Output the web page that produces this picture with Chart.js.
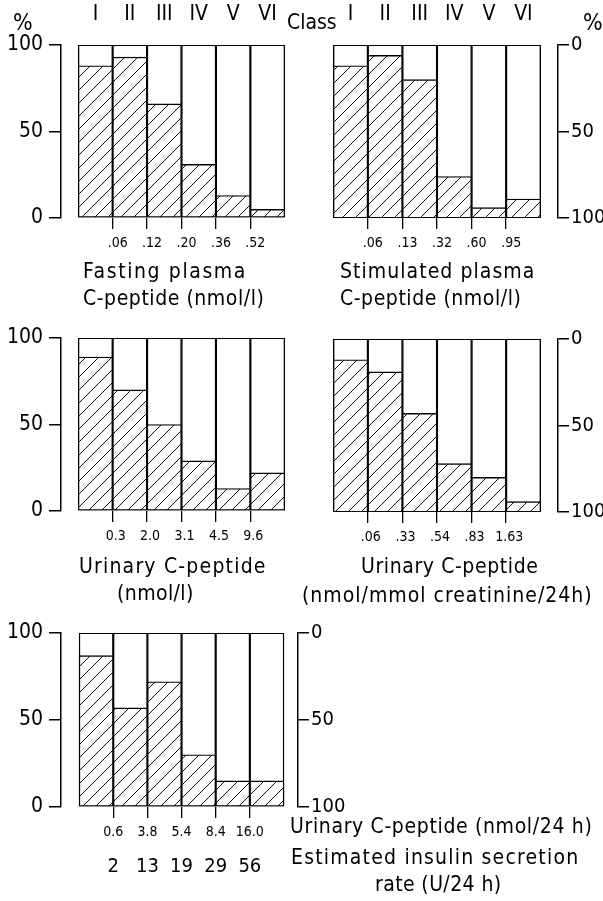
<!DOCTYPE html>
<html>
<head>
<meta charset="utf-8">
<script src="https://cdn.jsdelivr.net/npm/chart.js@4.4.1/dist/chart.umd.min.js"></script>
<style>
  body { margin: 0; background: #fff; }
  #page { position: relative; width: 603px; height: 901px; overflow: hidden; font-family: "DejaVu Sans Condensed", "DejaVu Sans", sans-serif; }
  canvas { position: absolute; }
  .t { position: absolute; white-space: nowrap; font-size: 21px; letter-spacing: 1px; line-height: 1; color: #000; z-index: 2; }
</style>
</head>
<body>
<div id="page">
  <canvas id="c1" width="302" height="262" style="left:0;top:0"></canvas>
  <canvas id="c2" width="303" height="262" style="left:300px;top:0"></canvas>
  <canvas id="c3" width="302" height="262" style="left:0;top:300px"></canvas>
  <canvas id="c4" width="303" height="262" style="left:300px;top:300px"></canvas>
  <canvas id="c5" width="345" height="290" style="left:0;top:590px"></canvas>

  <div class="t" style="left:13px;top:11px;font-size:23px;letter-spacing:0">%</div>
  <div class="t" style="left:287px;top:12px;letter-spacing:0">Class</div>
  <div class="t" style="left:583px;top:11px;font-size:23px;letter-spacing:0">%</div>

  <div class="t" style="left:83px;top:261px;letter-spacing:1.6px">Fasting plasma</div>
  <div class="t" style="left:83px;top:288px;letter-spacing:0.55px">C-peptide (nmol/l)</div>
  <div class="t" style="left:340px;top:261px;letter-spacing:1.05px">Stimulated plasma</div>
  <div class="t" style="left:340px;top:288px;letter-spacing:0.55px">C-peptide (nmol/l)</div>

  <div class="t" style="left:79px;top:556px;letter-spacing:1.2px">Urinary C-peptide</div>
  <div class="t" style="left:117px;top:583px;letter-spacing:0.4px">(nmol/l)</div>
  <div class="t" style="left:361px;top:556px;letter-spacing:0.6px">Urinary C-peptide</div>
  <div class="t" style="left:302px;top:585px;letter-spacing:1px">(nmol/mmol creatinine/24h)</div>

  <div class="t" style="left:290px;top:816px;letter-spacing:0.65px">Urinary C-peptide (nmol/24 h)</div>
  <div class="t" style="left:291px;top:847px;letter-spacing:1.2px">Estimated insulin secretion</div>
  <div class="t" style="left:375px;top:874px;letter-spacing:0.4px">rate (U/24 h)</div>
</div>
<script>
const FONT = '"DejaVu Sans Condensed", "DejaVu Sans", sans-serif';

// classes and % of patients (hatched part) per class
const classes = ["I", "II", "III", "IV", "V", "VI"];
const fullScale = [100, 100, 100, 100, 100, 100];

const fastingPct = [88, 93, 66, 31, 13, 5];
const fastingCuts = [".06", ".12", ".20", ".36", ".52"];

const stimulatedPct = [88, 94, 80, 24, 6, 11];
const stimulatedCuts = [".06", ".13", ".32", ".60", ".95"];

const urinaryPct = [89, 70, 50, 29, 13, 22];
const urinaryCuts = ["0.3", "2.0", "3.1", "4.5", "9.6"];

const creatininePct = [88, 81, 57, 28, 20, 6];
const creatinineCuts = [".06", ".33", ".54", ".83", "1.63"];

const dailyPct = [87, 57, 72, 30, 15, 15];
const dailyCuts = ["0.6", "3.8", "5.4", "8.4", "16.0"];
const insulinCuts = ["2", "13", "19", "29", "56"];

const pctTicks = [0, 50, 100];

Chart.defaults.font.family = FONT;
Chart.defaults.color = "#000";

function hatch() {
    const s = 13;
    const c = document.createElement("canvas");
    c.width = s; c.height = s;
    const g = c.getContext("2d");
    g.fillStyle = "#fff";
    g.fillRect(0, 0, s, s);
    g.strokeStyle = "#111";
    g.lineWidth = 1;
    g.beginPath();
    g.moveTo(-1, s + 1); g.lineTo(s + 1, -1);
    g.moveTo(-1, 1); g.lineTo(1, -1);
    g.moveTo(s - 1, s + 1); g.lineTo(s + 1, s - 1);
    g.stroke();
    return g.createPattern(c, "repeat");
}
const pattern = hatch();

// ticks sit at class boundaries (1..5) or class centres
const boundaries = ax => { ax.ticks = [1, 2, 3, 4, 5].map(v => ({ value: v })); };
const centres = ax => { ax.ticks = classes.map((c, i) => ({ value: i + 0.5 })); };

function panel(id, pct, cuts, o) {
    const pts = arr => arr.map((v, i) => ({ x: i + 0.5, y: v }));
    const scales = {
        x: {
            type: "linear", position: "bottom", min: o.xMin, max: o.xMax, offset: false,
            afterBuildTicks: boundaries,
            afterFit: ax => { ax.height = o.xH; },
            border: { display: false },
            grid: { offset: false, drawOnChartArea: false, tickLength: 11, color: "#000", lineWidth: 1.3 },
            ticks: { callback: (v, i) => cuts[i], font: { size: o.cutSize || 14 }, padding: 6, labelOffset: o.labelOffset || 0, maxRotation: 0, autoSkip: false }
        },
        y: {
            type: "linear", position: "left", min: 0, max: 100, display: o.left,
            afterBuildTicks: ax => { ax.ticks = pctTicks.map(v => ({ value: v })); },
            afterFit: ax => { ax.width = o.left ? 61 : 0; },
            border: { display: true, color: "#000", width: 1.5 },
            grid: { drawOnChartArea: false, tickLength: 12, color: "#000", lineWidth: 1.5 },
            ticks: { font: { size: 21 }, padding: 6 }
        },
        yr: {
            type: "linear", position: "right", min: 0, max: 100, reverse: true, display: o.right,
            afterBuildTicks: ax => { ax.ticks = pctTicks.map(v => ({ value: v })); },
            afterFit: ax => { ax.width = o.right ? o.rW : 0; },
            border: { display: true, color: "#000", width: 1.5 },
            grid: { drawOnChartArea: false, tickLength: 11, color: "#000", lineWidth: 1.5 },
            ticks: { font: { size: 20 }, padding: 2 }
        }
    };
    if (o.top) {
        scales.xt = {
            type: "linear", position: "top", min: o.xMin, max: o.xMax, offset: false,
            afterBuildTicks: centres,
            afterFit: ax => { ax.height = 45; },
            border: { display: false },
            grid: { display: false, offset: false },
            ticks: { callback: (v, i) => classes[i], font: { size: 21 }, padding: 10, maxRotation: 0, autoSkip: false }
        };
    }
    if (o.second) {
        scales.x2 = {
            type: "linear", position: "bottom", min: o.xMin, max: o.xMax, offset: false,
            afterBuildTicks: boundaries,
            afterFit: ax => { ax.height = 37; },
            border: { display: false },
            grid: { display: false, offset: false },
            ticks: { callback: (v, i) => o.second[i], font: { size: 20 }, padding: 4, maxRotation: 0, autoSkip: false }
        };
    }
    new Chart(document.getElementById(id), {
        type: "bar",
        data: {
            datasets: [
                { data: pts(pct), backgroundColor: pattern, borderColor: "#000", borderWidth: 1.4, borderSkipped: false, grouped: false, xAxisID: "x", yAxisID: "y" },
                { data: pts(fullScale), backgroundColor: "#fff", borderColor: "#000", borderWidth: 1.4, borderSkipped: false, grouped: false, xAxisID: "x", yAxisID: "y" }
            ]
        },
        options: {
            responsive: false,
            animation: false,
            events: [],
            layout: { padding: o.pad },
            datasets: { bar: { barPercentage: 1, categoryPercentage: 1 } },
            plugins: { legend: { display: false }, tooltip: { enabled: false } },
            scales: scales
        }
    });
}

panel("c1", fastingPct, fastingCuts, { xMin: -0.5, xMax: 6.5, left: true, right: false, top: true, xH: 44, rW: 0, labelOffset: 5, pad: { top: 0, left: 0, right: 0, bottom: 0 } });
panel("c2", stimulatedPct, stimulatedCuts, { xMin: -0.5, xMax: 6.5, left: false, right: true, top: true, xH: 44, rW: 45, labelOffset: 5, pad: { top: 0, left: 16, right: 0, bottom: 0 } });
panel("c3", urinaryPct, urinaryCuts, { xMin: -0.5, xMax: 6.5, left: true, right: false, top: false, xH: 51, rW: 0, labelOffset: 3, pad: { top: 38, left: 0, right: 0, bottom: 0 } });
panel("c4", creatininePct, creatinineCuts, { xMin: -0.5, xMax: 6.5, left: false, right: true, top: false, xH: 50, rW: 45, labelOffset: 3, pad: { top: 39, left: 16, right: 0, bottom: 0 } });
panel("c5", dailyPct, dailyCuts, { xMin: -0.53, xMax: 6.41, left: true, right: true, top: false, xH: 36, rW: 47, cutSize: 14, second: insulinCuts, pad: { top: 43, left: 0, right: 0, bottom: 0 } });
</script>
</body>
</html>
